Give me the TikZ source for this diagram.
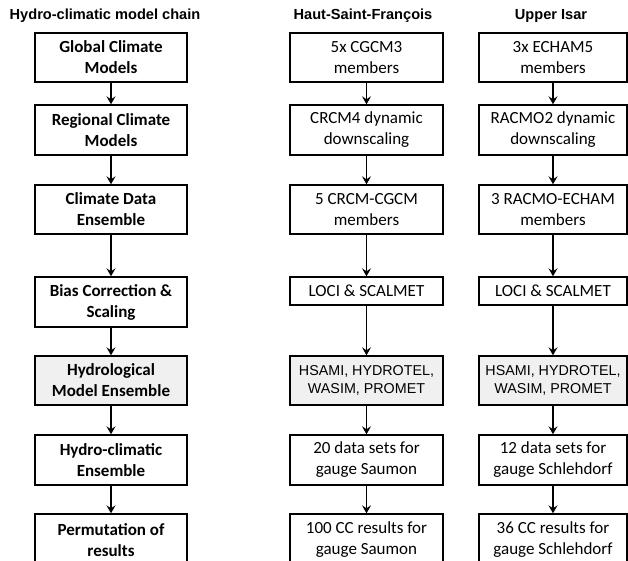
\documentclass[tikz,border=0pt]{standalone}
\usepackage{fontspec}
\setmainfont{Carlito}
\newfontfamily\arialf{Liberation Sans}
\usetikzlibrary{arrows.meta}
\begin{document}
\begin{tikzpicture}[x=1pt,y=-1pt,
  basebox/.style={draw, line width=1.4pt, align=center, inner sep=0pt},
  lbox/.style={basebox, minimum width=152pt, font=\fontsize{17}{21}\bfseries\selectfont},
  mbox/.style={basebox, minimum width=153pt, font=\fontsize{17}{21}\selectfont},
  rbox/.style={basebox, minimum width=148pt, font=\fontsize{17}{21}\selectfont},
  hyd/.style={fill=black!6},
  arialtxt/.style={font=\arialf\fontsize{14.3}{18}\selectfont},
  ttl/.style={font=\arialf\fontsize{14.6}{16}\bfseries\selectfont, inner sep=0pt},
  arr/.style={line width=1.3pt, -{Stealth[length=8pt,width=9pt,inset=3pt]}}
]
\useasboundingbox (0,0) rectangle (628,561);
% titles
\node[ttl] (t1) at (105,16) {Hydro-climatic model chain};
\node[ttl] (t2) at (363,16) {Haut-Saint-François};
\node[ttl] (t3) at (551,16) {Upper Isar};
% left column
\node[lbox, minimum height=49pt] (l1) at (111,57.5) {Global Climate\\Models};
\node[lbox, minimum height=50pt] (l2) at (111,130) {Regional Climate\\Models};
\node[lbox, minimum height=49pt] (l3) at (111,209.5) {Climate Data\\Ensemble};
\node[lbox, minimum height=50pt] (l4) at (111,302) {Bias Correction \&\\Scaling};
\node[lbox, hyd, minimum height=49pt] (l5) at (111,380.5) {Hydrological\\Model Ensemble};
\node[lbox, minimum height=50pt] (l6) at (111,460) {Hydro-climatic\\Ensemble};
\node[lbox, minimum height=52pt] (l7) at (111,540) {Permutation of\\results};
% middle column
\node[mbox, minimum height=49pt] (m1) at (366.5,57.5) {5x CGCM3\\members};
\node[mbox, minimum height=50pt] (m2) at (366.5,130) {CRCM4 dynamic\\downscaling};
\node[mbox, minimum height=49pt] (m3) at (366.5,209.5) {5 CRCM-CGCM\\members};
\node[mbox, minimum height=28pt] (m4) at (366.5,291) {LOCI \& SCALMET};
\node[mbox, hyd, arialtxt, minimum height=49pt] (m5) at (366.5,380.5) {HSAMI, HYDROTEL,\\WASIM, PROMET};
\node[mbox, minimum height=50pt] (m6) at (366.5,460) {20 data sets for\\gauge Saumon};
\node[mbox, minimum height=52pt] (m7) at (366.5,540) {100 CC results for\\gauge Saumon};
% right column
\node[rbox, minimum height=49pt] (r1) at (553,57.5) {3x ECHAM5\\members};
\node[rbox, minimum height=50pt] (r2) at (553,130) {RACMO2 dynamic\\downscaling};
\node[rbox, minimum height=49pt] (r3) at (553,209.5) {3 RACMO-ECHAM\\members};
\node[rbox, minimum height=28pt] (r4) at (553,291) {LOCI \& SCALMET};
\node[rbox, hyd, arialtxt, minimum height=49pt] (r5) at (553,380.5) {HSAMI, HYDROTEL,\\WASIM, PROMET};
\node[rbox, minimum height=50pt] (r6) at (553,460) {12 data sets for\\gauge Schlehdorf};
\node[rbox, minimum height=52pt] (r7) at (553,540) {36 CC results for\\gauge Schlehdorf};
% arrows
\foreach \c in {l,m,r}{
  \draw[arr] (\c1.south) -- (\c2.north);
  \draw[arr] (\c2.south) -- (\c3.north);
  \draw[arr] (\c3.south) -- (\c4.north);
  \draw[arr] (\c4.south) -- (\c5.north);
  \draw[arr] (\c5.south) -- (\c6.north);
  \draw[arr] (\c6.south) -- (\c7.north);
}
\end{tikzpicture}
\end{document}
